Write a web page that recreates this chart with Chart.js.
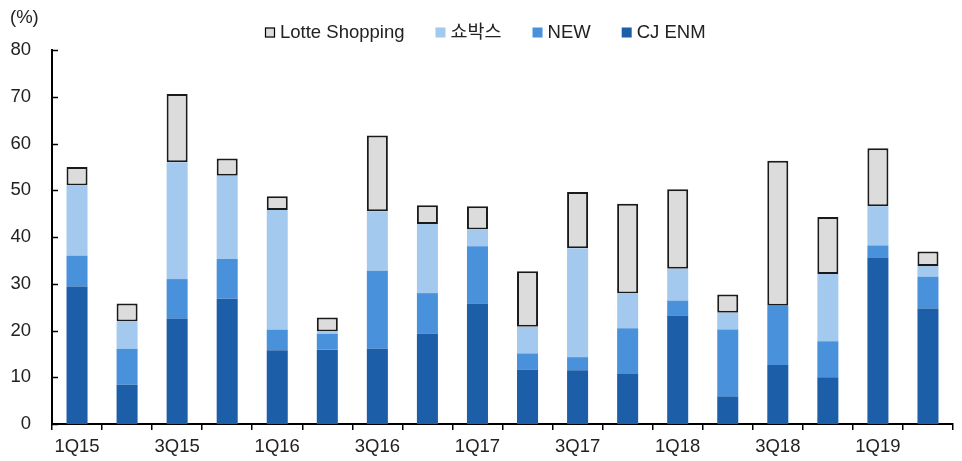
<!DOCTYPE html>
<html>
<head>
<meta charset="utf-8">
<script src="https://cdn.jsdelivr.net/npm/chart.js@4/dist/chart.umd.min.js"></script>
<style>
  html, body { margin: 0; padding: 0; background: #fff; }
  #wrap { width: 962px; height: 461px; position: relative; }
</style>
</head>
<body>
<div id="wrap"><canvas id="c" width="962" height="461"></canvas></div>
<script>
const categories = ['1Q15','2Q15','3Q15','4Q15','1Q16','2Q16','3Q16','4Q16','1Q17','2Q17','3Q17','4Q17','1Q18','2Q18','3Q18','4Q18','1Q19','2Q19'];
const cjEnm   = [29.4, 8.4, 22.5, 26.8, 15.8, 15.9, 16.1, 19.3, 25.8, 11.6, 11.5, 10.7, 23.2, 5.9, 12.6, 10.0, 35.6, 24.7];
const newCo   = [6.6, 7.7, 8.5, 8.5, 4.4, 3.4, 16.7, 8.7, 12.2, 3.5, 2.8, 9.8, 3.2, 14.3, 12.7, 7.7, 2.6, 6.8];
const showbox = [15.0, 5.8, 25.0, 17.8, 25.6, 0.5, 12.7, 14.8, 3.6, 5.7, 23.3, 7.4, 6.8, 3.6, 0.0, 14.4, 8.4, 2.3];
const lotte   = [4.0, 3.9, 14.6, 3.7, 2.9, 3.0, 16.2, 4.0, 5.0, 11.9, 12.0, 19.2, 17.0, 3.9, 31.0, 12.2, 12.4, 3.1];
const yTicks  = [0, 10, 20, 30, 40, 50, 60, 70, 80];
const unitLabel = '(%)';

const FONT = '"Liberation Sans", Arial, "Noto Sans CJK KR", sans-serif';
const FS = 18.5;

const insideTicks = {
  id: 'insideTicks',
  afterDraw(chart) {
    const ctx = chart.ctx, y = chart.scales.y;
    ctx.save();
    ctx.strokeStyle = '#000';
    ctx.lineWidth = 1.5;
    y.ticks.forEach(t => {
      const py = Math.round(y.getPixelForValue(t.value)) + 0.5;
      ctx.beginPath();
      ctx.moveTo(y.right, py);
      ctx.lineTo(y.right + 6, py);
      ctx.stroke();
    });
    ctx.fillStyle = '#222';
    ctx.font = FS + 'px ' + FONT;
    ctx.textBaseline = 'middle';
    ctx.textAlign = 'left';
    ctx.fillText(unitLabel, 10, 18);
    ctx.restore();
  }
};

const customLegend = {
  id: 'customLegend',
  afterDraw(chart) {
    const ctx = chart.ctx;
    ctx.save();
    ctx.font = FS + 'px ' + FONT;
    ctx.textBaseline = 'middle';
    ctx.textAlign = 'left';
    const ds = chart.data.datasets.slice().reverse();
    const box = 10, gapText = 5, gapItem = 31, cy = 32.5;
    let x = 265;
    ds.forEach(d => {
      ctx.fillStyle = d.backgroundColor;
      ctx.fillRect(x, cy - box / 2, box, box);
      if (d.borderWidth) {
        ctx.strokeStyle = '#000';
        ctx.lineWidth = 1.2;
        ctx.strokeRect(x + 0.5, cy - box / 2 + 0.5, box - 1, box - 1);
      }
      x += box + gapText;
      ctx.fillStyle = '#222';
      ctx.fillText(d.label, x, cy);
      x += ctx.measureText(d.label).width + gapItem;
    });
    ctx.restore();
  }
};

new Chart(document.getElementById('c'), {
  type: 'bar',
  data: {
    labels: categories,
    datasets: [
      { label: 'CJ ENM', data: cjEnm, backgroundColor: '#1C5EA8', borderWidth: 0 },
      { label: 'NEW', data: newCo, backgroundColor: '#4A91DC', borderWidth: 0 },
      { label: '쇼박스', data: showbox, backgroundColor: '#A3C9EF', borderWidth: 0 },
      { label: 'Lotte Shopping', data: lotte, backgroundColor: '#DCDCDC', borderColor: '#1a1a1a', borderWidth: 2, borderSkipped: false }
    ]
  },
  options: {
    responsive: false,
    animation: false,
    devicePixelRatio: 1,
    layout: { padding: { top: 50, right: 9, bottom: 0, left: 0 } },
    datasets: { bar: { categoryPercentage: 0.84, barPercentage: 0.5 } },
    plugins: { legend: { display: false }, tooltip: { enabled: false } },
    scales: {
      x: {
        stacked: true,
        afterFit(s) { s.height = 37; },
        grid: { drawOnChartArea: false, drawTicks: true, tickLength: 6, color: '#000', lineWidth: 1.5, offset: true },
        border: { display: true, color: '#000', width: 2 },
        ticks: {
          autoSkip: false, maxRotation: 0, padding: 6, color: '#222',
          font: { size: FS, family: FONT },
          callback(v, i) { return i % 2 === 0 ? categories[i] : ''; }
        }
      },
      y: {
        stacked: true,
        min: 0, max: 80,
        afterFit(s) { s.width = 52; },
        afterBuildTicks(s) { s.ticks = yTicks.map(v => ({ value: v })); },
        grid: { display: false },
        border: { display: true, color: '#000', width: 2 },
        ticks: { padding: 13, color: '#222', font: { size: FS, family: FONT } }
      }
    }
  },
  plugins: [insideTicks, customLegend]
});
</script>
</body>
</html>
